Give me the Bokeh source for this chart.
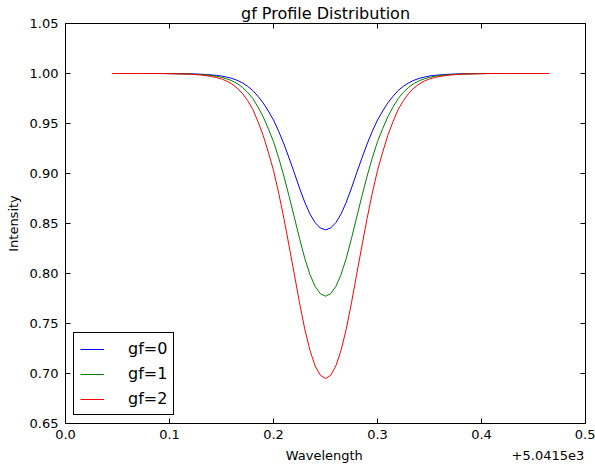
from bokeh.plotting import figure
from bokeh.models import (LinearAxis, Legend, LegendItem, FixedTicker,
                          Range1d, PrintfTickFormatter)
from bokeh.core.properties import value
from bokeh.embed import file_html
from bokeh.resources import INLINE

# Wavelength offset from 5041.5 (axis shows "+5.0415e3")
wavelength = [0.045, 0.050, 0.055, 0.060, 0.065, 0.070, 0.075, 0.080, 0.085, 0.090,
              0.095, 0.100, 0.105, 0.110, 0.115, 0.120, 0.125, 0.130, 0.135, 0.140,
              0.145, 0.150, 0.155, 0.160, 0.165, 0.170, 0.175, 0.180, 0.185, 0.190,
              0.195, 0.200, 0.205, 0.210, 0.215, 0.220, 0.225, 0.230, 0.235, 0.240,
              0.245, 0.250,
              0.255, 0.260, 0.265, 0.270, 0.275, 0.280, 0.285, 0.290, 0.295, 0.300,
              0.305, 0.310, 0.315, 0.320, 0.325, 0.330, 0.335, 0.340, 0.345, 0.350,
              0.355, 0.360, 0.365, 0.370, 0.375, 0.380, 0.385, 0.390, 0.395, 0.400,
              0.405, 0.410, 0.415, 0.420, 0.425, 0.430, 0.435, 0.440, 0.445, 0.450,
              0.455, 0.460, 0.465]

gf0 = [1.0, 1.0, 1.0, 1.0, 1.0, 1.0, 1.0, 1.0, 1.0, 1.0, 1.0,
       0.9999, 0.9999, 0.9998, 0.9997, 0.9997, 0.9995, 0.9993, 0.9990, 0.9986, 0.9981,
       0.9975, 0.9964, 0.9951, 0.9932, 0.9907, 0.9873, 0.9831, 0.9773, 0.9707, 0.9625,
       0.9535, 0.9422, 0.9295, 0.9154, 0.9007, 0.8855, 0.8714, 0.8596, 0.8509, 0.8455,
       0.8437,
       0.8455, 0.8509, 0.8596, 0.8714, 0.8855, 0.9007, 0.9154, 0.9295, 0.9422, 0.9535,
       0.9625, 0.9707, 0.9773, 0.9831, 0.9873, 0.9907, 0.9932, 0.9951, 0.9964, 0.9975,
       0.9981, 0.9986, 0.9990, 0.9993, 0.9995, 0.9997, 0.9997, 0.9998, 0.9999, 0.9999,
       1.0, 1.0, 1.0, 1.0, 1.0, 1.0, 1.0, 1.0, 1.0, 1.0, 1.0, 1.0, 1.0]

gf1 = [1.0, 1.0, 1.0, 1.0, 1.0, 1.0, 1.0, 1.0, 1.0, 1.0, 1.0,
       0.9999, 0.9998, 0.9997, 0.9996, 0.9995, 0.9992, 0.9990, 0.9985, 0.9980, 0.9972,
       0.9962, 0.9947, 0.9927, 0.9900, 0.9862, 0.9813, 0.9751, 0.9666, 0.9569, 0.9449,
       0.9319, 0.9156, 0.8973, 0.8772, 0.8564, 0.8351, 0.8154, 0.7991, 0.7871, 0.7798,
       0.7773,
       0.7798, 0.7871, 0.7991, 0.8154, 0.8351, 0.8564, 0.8772, 0.8973, 0.9156, 0.9319,
       0.9449, 0.9569, 0.9666, 0.9751, 0.9813, 0.9862, 0.9900, 0.9927, 0.9947, 0.9962,
       0.9972, 0.9980, 0.9985, 0.9990, 0.9992, 0.9995, 0.9996, 0.9997, 0.9998, 0.9999,
       1.0, 1.0, 1.0, 1.0, 1.0, 1.0, 1.0, 1.0, 1.0, 1.0, 1.0, 1.0, 1.0]

gf2 = [1.0, 1.0, 1.0, 1.0, 1.0, 1.0, 1.0, 1.0, 1.0, 1.0,
       0.9999, 0.9998, 0.9997, 0.9996, 0.9995, 0.9993, 0.9989, 0.9985, 0.9978, 0.9971,
       0.9960, 0.9946, 0.9924, 0.9895, 0.9855, 0.9802, 0.9731, 0.9643, 0.9521, 0.9383,
       0.9214, 0.9031, 0.8804, 0.8551, 0.8275, 0.7994, 0.7708, 0.7447, 0.7233, 0.7077,
       0.6982, 0.6949,
       0.6982, 0.7077, 0.7233, 0.7447, 0.7708, 0.7994, 0.8275, 0.8551, 0.8804, 0.9031,
       0.9214, 0.9383, 0.9521, 0.9643, 0.9731, 0.9802, 0.9855, 0.9895, 0.9924, 0.9946,
       0.9960, 0.9971, 0.9978, 0.9985, 0.9989, 0.9993, 0.9995, 0.9996, 0.9997, 0.9998,
       0.9999,
       1.0, 1.0, 1.0, 1.0, 1.0, 1.0, 1.0, 1.0, 1.0, 1.0, 1.0, 1.0]

series_labels = ["gf=0", "gf=1", "gf=2"]
series_colors = ["#0000ff", "#008000", "#ff0000"]
x_ticks = [0.0, 0.1, 0.2, 0.3, 0.4, 0.5]
y_ticks = [0.65, 0.70, 0.75, 0.80, 0.85, 0.90, 0.95, 1.00, 1.05]
x_label = "Wavelength"
y_label = "Intensity"
offset_text = "+5.0415e3"

FONT = "DejaVu Sans"
NBSP = "\u00a0"

p = figure(width=595, height=466, output_backend="svg", toolbar_location=None,
           x_range=Range1d(0.0, 0.5), y_range=Range1d(0.65, 1.05),
           min_border_left=65, min_border_right=10, min_border_top=23,
           min_border_bottom=43, title="gf Profile Distribution")
p.title.text_font = FONT
p.title.text_font_size = "16px"
p.title.text_font_style = "normal"
p.title.text_color = "black"
p.title.align = "center"
p.title.standoff = 2
p.outline_line_color = "black"
p.outline_line_alpha = 1.0
p.xgrid.visible = False
p.ygrid.visible = False
p.background_fill_color = "white"
p.border_fill_color = "white"

renderers = []
for ys, c in zip([gf0, gf1, gf2], series_colors):
    r = p.line(wavelength, ys, line_color=c, line_width=1)
    renderers.append(r)

def style_axis(ax, show_labels=True):
    ax.axis_line_color = "black"
    ax.major_tick_in = 5
    ax.major_tick_out = 0
    ax.minor_tick_line_color = None
    ax.major_tick_line_color = "black"
    ax.major_label_text_font = FONT
    ax.major_label_text_color = "black"
    ax.axis_label_text_font = FONT
    ax.axis_label_text_font_style = "normal"
    ax.axis_label_text_font_size = "13px"
    ax.axis_label_text_color = "black"
    if show_labels:
        ax.major_label_text_font_size = "13px"
    else:
        ax.major_label_text_font_size = "0px"
        ax.major_label_standoff = 0

# x-axis title centred under the frame, with the offset text at the right end
# of the same row (non-breaking spaces keep the two parts in place)
xa = p.xaxis[0]
xa.ticker = FixedTicker(ticks=x_ticks)
xa.formatter = PrintfTickFormatter(format="%.1f")
xa.axis_label = NBSP * 53 + x_label + NBSP * 36 + offset_text
style_axis(xa)
xa.major_label_standoff = 6
xa.axis_label_standoff = 6

ya = p.yaxis[0]
ya.ticker = FixedTicker(ticks=y_ticks)
ya.formatter = PrintfTickFormatter(format="%.2f")
ya.axis_label = y_label
style_axis(ya)
ya.major_label_standoff = 7
ya.axis_label_standoff = 6

top = LinearAxis(ticker=FixedTicker(ticks=x_ticks))
style_axis(top, show_labels=False)
p.add_layout(top, "above")
right = LinearAxis(ticker=FixedTicker(ticks=y_ticks))
style_axis(right, show_labels=False)
p.add_layout(right, "right")

legend = Legend(items=[LegendItem(label=value(l), renderers=[r])
                       for l, r in zip(series_labels, renderers)],
                location="bottom_left")
legend.label_text_font = FONT
legend.label_text_font_size = "16px"
legend.label_text_color = "black"
legend.border_line_color = "black"
legend.border_line_width = 1
legend.border_line_alpha = 1.0
legend.background_fill_alpha = 1.0
legend.padding = 6
legend.spacing = 6
legend.glyph_width = 24
legend.glyph_height = 18
legend.label_height = 18
legend.label_standoff = 24
legend.margin = 8
p.add_layout(legend)

open("out.html", "w").write(file_html(p, INLINE))
